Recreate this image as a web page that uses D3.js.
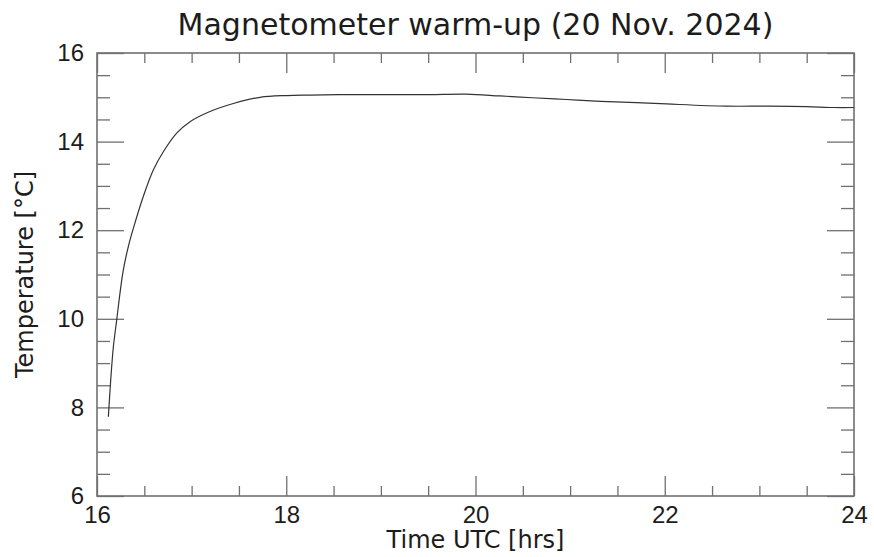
<!DOCTYPE html>
<html>
<head>
<meta charset="utf-8">
<script src="https://cdn.jsdelivr.net/npm/d3@7"></script>
<style>
  body { margin: 0; background: #fff; }
  svg { display: block; font-family: "DejaVu Sans", sans-serif; }
</style>
</head>
<body>
<svg></svg>
<script>
'use strict';

const width = 874, height = 557;
const margin = {top: 53, right: 20, bottom: 61, left: 97};

// logged sensor temperature after power-on
const timeHrs = [16.12, 16.145, 16.173, 16.208, 16.243, 16.278, 16.331, 16.384, 16.489, 16.595,
  16.701, 16.842, 16.983, 17.194, 17.441, 17.723, 18.005, 18.25, 18.6, 19.0,
  19.5, 19.9, 20.26, 20.6, 20.96, 21.32, 21.7, 22.02, 22.65, 23.1,
  23.5, 23.78, 24.0];
const tempC = [7.79, 8.62, 9.37, 9.97, 10.58, 11.10, 11.63, 12.04, 12.76, 13.36,
  13.77, 14.19, 14.45, 14.68, 14.86, 15.00, 15.04, 15.05, 15.06, 15.06,
  15.06, 15.07, 15.03, 14.99, 14.95, 14.91, 14.88, 14.85, 14.80, 14.80,
  14.79, 14.77, 14.77];

const xMajor = [16, 18, 20, 22, 24];
const xMinor = d3.range(16, 24.01, 0.5).filter(v => v % 2 !== 0);
const yMajor = [6, 8, 10, 12, 14, 16];
const yMinor = d3.range(6, 16.01, 0.5).filter(v => v % 2 !== 0);

const axisColor = "#707070";
const textColor = "#1c1c1c";

let svg = d3.select("svg")
  .attr("width", width)
  .attr("height", height)
  .attr("viewBox", [0, 0, width, height]);

let x = d3.scaleLinear().domain([16, 24]).range([margin.left, width - margin.right]);
let y = d3.scaleLinear().domain([6, 16]).range([height - margin.bottom, margin.top]);

// inward ticks on all four sides
function styleAxis(g) {
  g.select(".domain").remove();
  g.selectAll(".tick line").attr("stroke", axisColor).attr("stroke-width", 1.3);
  g.selectAll(".tick text").attr("fill", textColor).attr("font-size", 24);
}

svg.append("g")
  .attr("transform", `translate(0,${height - margin.bottom})`)
  .call(d3.axisBottom(x).tickValues(xMajor).tickSize(-20).tickPadding(9.5).tickFormat(d3.format("d")))
  .call(styleAxis);
svg.append("g")
  .attr("transform", `translate(0,${height - margin.bottom})`)
  .call(d3.axisBottom(x).tickValues(xMinor).tickSize(-10).tickFormat(""))
  .call(styleAxis);
svg.append("g")
  .attr("transform", `translate(0,${margin.top})`)
  .call(d3.axisTop(x).tickValues(xMajor).tickSize(-20).tickFormat(""))
  .call(styleAxis);
svg.append("g")
  .attr("transform", `translate(0,${margin.top})`)
  .call(d3.axisTop(x).tickValues(xMinor).tickSize(-10).tickFormat(""))
  .call(styleAxis);

svg.append("g")
  .attr("transform", `translate(${margin.left},0)`)
  .call(d3.axisLeft(y).tickValues(yMajor).tickSize(-27).tickPadding(13).tickFormat(d3.format("d")))
  .call(styleAxis);
svg.append("g")
  .attr("transform", `translate(${margin.left},0)`)
  .call(d3.axisLeft(y).tickValues(yMinor).tickSize(-13).tickFormat(""))
  .call(styleAxis);
svg.append("g")
  .attr("transform", `translate(${width - margin.right},0)`)
  .call(d3.axisRight(y).tickValues(yMajor).tickSize(-27).tickFormat(""))
  .call(styleAxis);
svg.append("g")
  .attr("transform", `translate(${width - margin.right},0)`)
  .call(d3.axisRight(y).tickValues(yMinor).tickSize(-13).tickFormat(""))
  .call(styleAxis);

// plot frame
svg.append("rect")
  .attr("x", margin.left)
  .attr("y", margin.top)
  .attr("width", width - margin.left - margin.right)
  .attr("height", height - margin.top - margin.bottom)
  .attr("fill", "none")
  .attr("stroke", axisColor)
  .attr("stroke-width", 1.6);

let line = d3.line()
  .x((d, i) => x(timeHrs[i]))
  .y(d => y(d))
  .curve(d3.curveCatmullRom.alpha(0.5));

svg.append("path")
  .datum(tempC)
  .attr("fill", "none")
  .attr("stroke", "#333")
  .attr("stroke-width", 1.2)
  .attr("d", line);

// titles
svg.append("text")
  .attr("x", (margin.left + width - margin.right) / 2)
  .attr("y", 35)
  .attr("text-anchor", "middle")
  .attr("font-size", 30)
  .attr("fill", textColor)
  .text("Magnetometer warm-up (20 Nov. 2024)");

svg.append("text")
  .attr("x", (margin.left + width - margin.right) / 2)
  .attr("y", 548)
  .attr("text-anchor", "middle")
  .attr("font-size", 24)
  .attr("fill", textColor)
  .text("Time UTC [hrs]");

svg.append("text")
  .attr("transform", `translate(33,${(margin.top + height - margin.bottom) / 2}) rotate(-90)`)
  .attr("text-anchor", "middle")
  .attr("font-size", 24)
  .attr("fill", textColor)
  .text("Temperature [°C]");
</script>
</body>
</html>
